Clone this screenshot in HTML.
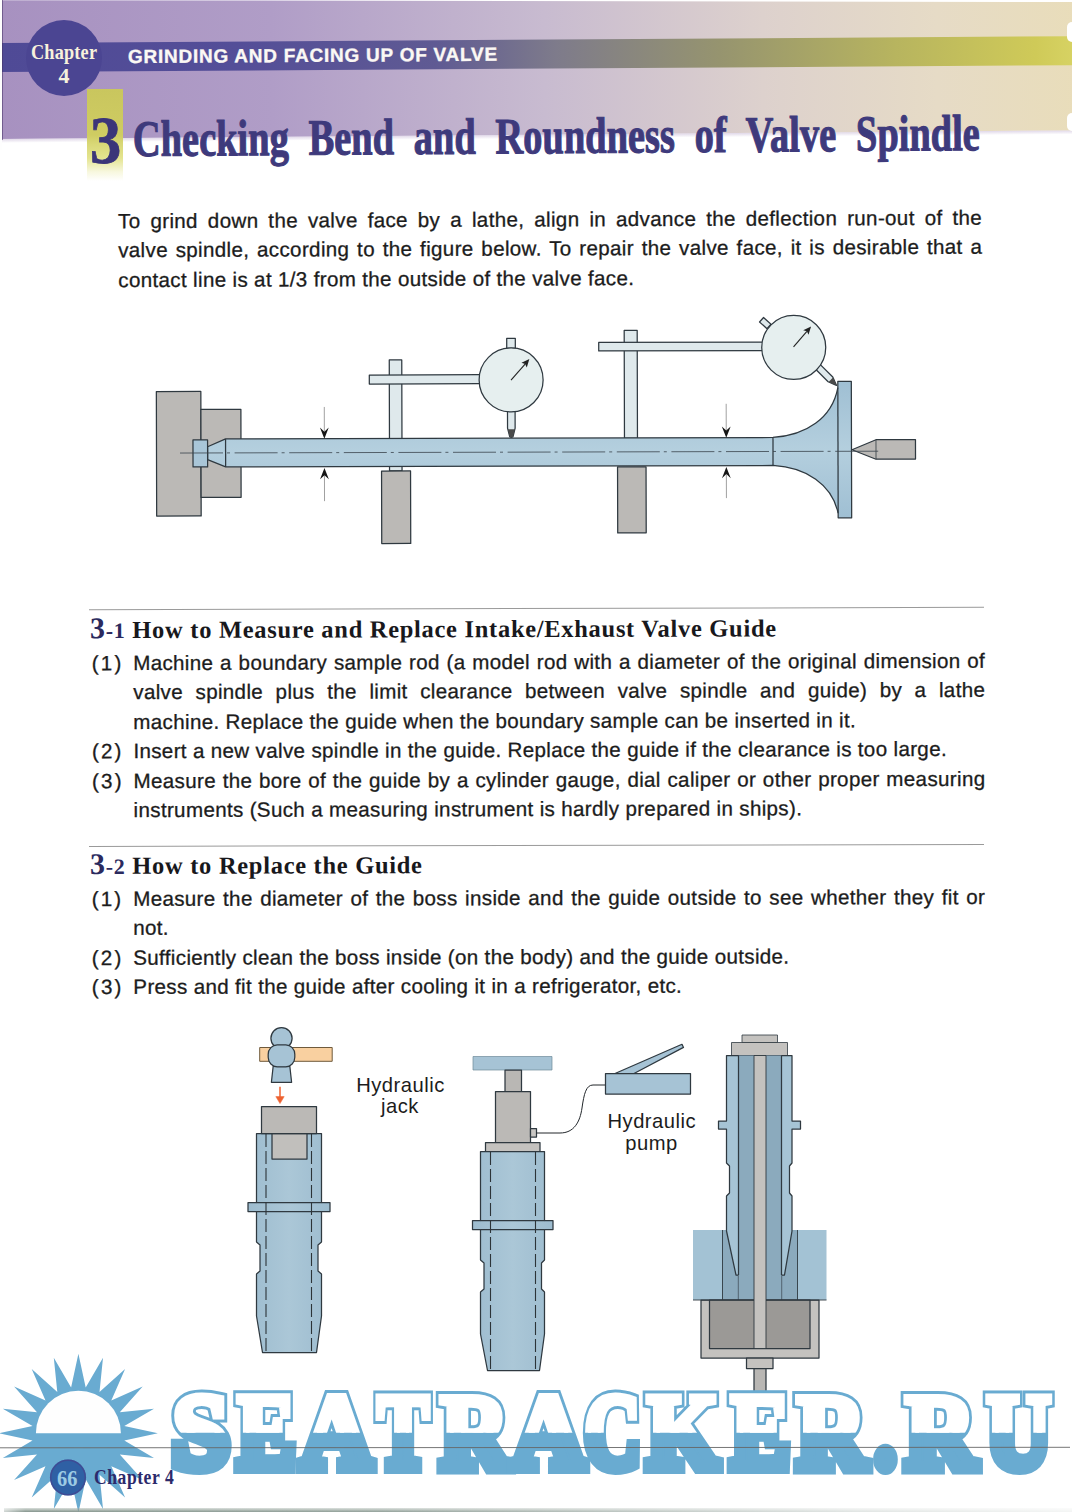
<!DOCTYPE html>
<html lang="en">
<head>
<meta charset="utf-8">
<title>Chapter 4 - Grinding and Facing Up of Valve</title>
<style>
html,body{margin:0;padding:0;}
body{width:1072px;height:1512px;position:relative;overflow:hidden;background:#fff;
  font-family:"Liberation Sans",sans-serif;color:#1c1c1c;}
.abs{position:absolute;}
/* ---------- header ---------- */
#hdr{left:0;top:-8px;width:1090px;height:147px;transform:rotate(-0.46deg);transform-origin:0 147px;
  background:linear-gradient(90deg,#a791c0 0%,#b09dc7 25%,#c8bbd0 50%,#ddd1cd 70%,#e6dbc6 86%,#e9ddb9 100%);}
#hdrfade{left:0;top:139px;width:1090px;height:4px;transform:rotate(-0.46deg);transform-origin:0 0px;
  background:linear-gradient(180deg,rgba(200,185,215,.55),rgba(255,255,255,0));}
#band{left:0;top:43px;width:1090px;height:29px;transform:rotate(-0.36deg);transform-origin:0 14px;
  background:linear-gradient(90deg,#4f4a96 0%,#544e98 22%,#5f5a93 40%,#7e7b8b 51%,#96946f 66%,#b7b45f 82%,#cfca58 95%,#dad668 100%);}
#leftedge{left:0;top:0;width:2px;height:150px;background:#fefefe;}
#circ{left:26px;top:20px;width:76px;height:76px;border-radius:50%;background:#4b4592;}
.chap{color:#f7f1dc;font-family:"Liberation Serif",serif;font-weight:bold;white-space:nowrap;line-height:1;}
#chapw{left:31px;top:41.6px;font-size:21px;transform:scaleX(.87);transform-origin:0 0;letter-spacing:.2px;}
#chapn{left:58.5px;top:64.6px;font-size:22px;transform:scaleX(1);transform-origin:0 0;}
#band-t{-webkit-text-stroke:.35px #fbf8f4;left:128px;top:44.3px;font-size:19px;font-weight:bold;color:#fbf8f4;white-space:nowrap;line-height:26px;letter-spacing:.75px;transform:rotate(-0.36deg);transform-origin:0 13px;}
#ybox{left:87px;top:89px;width:36px;height:92px;
  background:linear-gradient(180deg,#c9c65e 0%,#cfcc62 50%,#d9d877 60%,#e4e48f 75%,rgba(240,240,190,.5) 90%,rgba(255,255,255,0) 100%);}
#big3{-webkit-text-stroke:.8px #3b3579;left:89.5px;top:105.5px;font-family:"Liberation Serif",serif;font-weight:bold;font-size:68px;line-height:1;color:#3b3579;
  transform:scaleX(.92);transform-origin:0 0;}
#title{-webkit-text-stroke:1.1px #3e3a7c;left:132.8px;top:113.7px;word-spacing:13.5px;font-family:"Liberation Serif",serif;font-weight:bold;font-size:51px;line-height:1;color:#3e3a7c;white-space:nowrap;
  transform:rotate(-0.4deg) scaleX(.7535);transform-origin:0 44px;}
/* ---------- text ---------- */
.p{font-size:20.6px;line-height:29.4px;white-space:nowrap;letter-spacing:.33px;-webkit-text-stroke:.3px #1c1c1c;}
.num{letter-spacing:2.2px;}
.j{text-align:justify;text-align-last:justify;white-space:normal;}
.h{font-family:"Liberation Serif",serif;font-weight:bold;white-space:nowrap;color:#18181c;line-height:1;}
.rule{height:1px;background:#9a9a9a;}
.sec{transform-origin:536px 0;}
.sx{display:inline-block;letter-spacing:.7px;}
.n3{font-size:30px;color:#2b2a5e;}
.n1{font-size:22px;color:#2b2a5e;}
</style>
</head>
<body>
<!-- header -->
<div class="abs" id="hdr"></div>
<div class="abs" id="hdrfade"></div>
<div class="abs" id="band"></div>
<div class="abs" id="leftedge"></div>
<div class="abs" id="circ"></div>
<div class="abs" style="left:1067px;top:22px;width:10px;height:20px;border-radius:5px;background:#fff;"></div>
<div class="abs" style="left:1067px;top:113px;width:10px;height:18px;border-radius:5px;background:#fff;"></div>
<div class="abs" style="left:0;top:0;width:1072px;height:1.6px;background:#fff;transform:rotate(0.1deg);transform-origin:1072px 0;"></div>
<div class="abs" style="left:2px;top:0;width:1.4px;height:140px;background:rgba(70,50,100,.55);"></div>
<div class="abs chap" id="chapw">Chapter</div>
<div class="abs chap" id="chapn">4</div>
<div class="abs" id="band-t">GRINDING AND FACING UP OF VALVE</div>
<div class="abs" id="ybox"></div>
<div class="abs" id="big3">3</div>
<div class="abs" id="title">Checking Bend and Roundness of Valve Spindle</div>

<!-- intro paragraph -->
<div class="abs sec" id="intro" style="left:118px;top:204.2px;width:864px;transform:rotate(-0.23deg);">
  <div class="p j">To grind down the valve face by a lathe, align in advance the deflection run-out of the</div>
  <div class="p j">valve spindle, according to the figure below. To repair the valve face, it is desirable that a</div>
  <div class="p">contact line is at 1/3 from the outside of the valve face.</div>
</div>

<!-- FIG1 -->
<svg class="abs" id="fig1" style="left:0;top:290px;" width="1072" height="290" viewBox="0 290 1072 290">
<defs>
  <linearGradient id="shaftg" x1="0" y1="0" x2="0" y2="1">
    <stop offset="0" stop-color="#9fbfd3"/><stop offset=".5" stop-color="#b4cfde"/><stop offset="1" stop-color="#9fbfd3"/>
  </linearGradient>
  <marker id="ah" viewBox="0 0 10 10" refX="9.5" refY="5" markerWidth="10" markerHeight="8" markerUnits="userSpaceOnUse" orient="auto"><path d="M0,0 L10,5 L0,10 L3.5,5 Z" fill="#1a1a1a"/></marker>
</defs>
<g transform="translate(0 -0.9) rotate(-0.15 536 452)" stroke="#2f3940" stroke-width="1.25" stroke-linejoin="round">
  <!-- chuck blocks -->
  <rect x="156.5" y="391.5" width="44.5" height="124.5" fill="#bbb9b6"/>
  <rect x="201" y="409.5" width="40" height="88" fill="#bbb9b6"/>
  <!-- stands -->
  <rect x="389.5" y="360.5" width="12.5" height="111" fill="#dfe9ec"/>
  <rect x="369.5" y="375.5" width="111" height="9" fill="#dfe9ec"/>
  <rect x="624.5" y="331.5" width="13" height="108" fill="#dfe9ec"/>
  <rect x="599" y="343.5" width="165" height="8.5" fill="#dfe9ec"/>
  <!-- support blocks -->
  <rect x="381.5" y="471.5" width="29" height="72.5" fill="#bbb9b6"/>
  <rect x="617.5" y="468" width="28.5" height="66" fill="#bbb9b6"/>
  <!-- valve: stem + head -->
  <path d="M207.6,446.8 L225.6,439 L773,439 C806,437 832,420 838,389.5 L838,383 L851.5,383 L851.5,519.5 L838,519.5 L838,515 C832,486 806,469 773,467 L225.6,467 L207.6,459.6 Z" fill="url(#shaftg)"/>
  <line x1="225.6" y1="439" x2="225.6" y2="467"/>
  <line x1="773" y1="439" x2="773" y2="467"/>
  <line x1="838" y1="389.5" x2="838" y2="515"/>
  <rect x="193" y="440" width="14.6" height="27" fill="#a9c6d8"/>
  <!-- tail centre -->
  <path d="M852,451.5 L876,441.5 L915.5,441.5 L915.5,461 L876,461 Z" fill="#bbb9b6"/>
  <line x1="876" y1="441.5" x2="876" y2="461" stroke-width=".8"/>
  <!-- centre line -->
  <line x1="180" y1="453" x2="879" y2="453" stroke="#3a444c" stroke-width=".8" stroke-dasharray="43 4 3 4.6"/>
  <!-- dial 1 -->
  <rect x="507" y="339.2" width="8.6" height="10" fill="#dfe9ec"/>
  <path d="M507.6,412 L515.2,412 L515.2,429 L513,437.6 Q511.4,438.8 509.8,437.6 L507.6,429 Z" fill="#dfe9ec"/>
  <path d="M507.8,430 L515,430 L513,437.6 Q511.4,438.8 509.8,437.6 Z" fill="#4a4a4a" stroke="none"/>
  <circle cx="511.3" cy="380.8" r="32" fill="#e6efef"/>
  <line x1="511.2" y1="381.0" x2="525.3" y2="364.9" stroke="#222" stroke-width="1.1"/><path d="M529.6,360.0 L527.0,368.3 L525.3,364.9 L521.7,363.7 Z" fill="#222" stroke="none"/>
  <!-- dial 2 -->
  <rect x="-5" y="-3" width="10" height="6" fill="#dfe9ec" transform="translate(765.6 324.6) rotate(42)"/>
  <path d="M-3.3,0 L3.3,0 L3.3,19 L0,27.5 L-3.3,19 Z" fill="#dfe9ec" transform="translate(817.2 367.6) rotate(-45)"/>
  <path d="M-3.1,19.5 L3.1,19.5 L0,27.5 Z" fill="#4a4a4a" stroke="none" transform="translate(817.2 367.6) rotate(-45)"/>
  <circle cx="794" cy="349" r="32" fill="#e6efef"/>
  <line x1="793.8" y1="348.5" x2="807.2" y2="332.9" stroke="#222" stroke-width="1.1"/><path d="M811.4,328.0 L808.8,336.3 L807.2,332.9 L803.5,331.8 Z" fill="#222" stroke="none"/>
  <!-- measuring arrows -->
  <g>
    <line x1="324.4" y1="407.3" x2="324.4" y2="432.0" stroke="#8a8a8a" stroke-width=".8"/><path d="M324.4,439.2 L320.0,427.8 L324.4,432.0 L328.8,427.8 Z" fill="#161616" stroke="none"/>
    <line x1="324.4" y1="501.5" x2="324.4" y2="475.5" stroke="#8a8a8a" stroke-width=".8"/><path d="M324.4,468.3 L320.0,479.7 L324.4,475.5 L328.8,479.7 Z" fill="#161616" stroke="none"/>
    <line x1="726.3" y1="405.2" x2="726.3" y2="432.0" stroke="#8a8a8a" stroke-width=".8"/><path d="M726.3,439.2 L721.9,427.8 L726.3,432.0 L730.7,427.8 Z" fill="#161616" stroke="none"/>
    <line x1="726.3" y1="499.5" x2="726.3" y2="475.5" stroke="#8a8a8a" stroke-width=".8"/><path d="M726.3,468.3 L721.9,479.7 L726.3,475.5 L730.7,479.7 Z" fill="#161616" stroke="none"/>
  </g>
</g>
</svg>

<!-- section 3-1 -->
<div class="abs sec" id="s31" style="left:0;top:600px;width:1072px;height:230px;transform:rotate(-0.15deg);">
  <div class="abs rule" style="left:89px;top:8px;width:895px;"></div>
  <div class="abs h" id="h31" style="left:90px;top:12px;font-size:24.5px;"><span class="sx"><span class="n3">3</span><span class="n1">-1</span> How to Measure and Replace Intake/Exhaust Valve Guide</span></div>
  <div class="abs p num" style="left:91.5px;top:47.0px;">(1)</div>
  <div class="abs p j" style="left:133px;top:47.0px;width:852px;">Machine a boundary sample rod (a model rod with a diameter of the original dimension of</div>
  <div class="abs p j" style="left:133px;top:76.4px;width:852px;">valve spindle plus the limit clearance between valve spindle and guide) by a lathe</div>
  <div class="abs p" style="left:133px;top:105.8px;">machine. Replace the guide when the boundary sample can be inserted in it.</div>
  <div class="abs p num" style="left:91.5px;top:135.2px;">(2)</div>
  <div class="abs p" style="left:133px;top:135.2px;">Insert a new valve spindle in the guide. Replace the guide if the clearance is too large.</div>
  <div class="abs p num" style="left:91.5px;top:164.6px;">(3)</div>
  <div class="abs p j" style="left:133px;top:164.6px;width:852px;">Measure the bore of the guide by a cylinder gauge, dial caliper or other proper measuring</div>
  <div class="abs p" style="left:133px;top:194.0px;">instruments (Such a measuring instrument is hardly prepared in ships).</div>
</div>

<!-- section 3-2 -->
<div class="abs sec" id="s32" style="left:0;top:836px;width:1072px;height:180px;transform:rotate(-0.12deg);">
  <div class="abs rule" style="left:89px;top:9px;width:895px;"></div>
  <div class="abs h" id="h32" style="left:90px;top:12px;font-size:24.5px;"><span class="sx"><span class="n3">3</span><span class="n1">-2</span> How to Replace the Guide</span></div>
  <div class="abs p num" style="left:91.5px;top:47px;">(1)</div>
  <div class="abs p j" style="left:133px;top:47px;width:852px;">Measure the diameter of the boss inside and the guide outside to see whether they fit or</div>
  <div class="abs p" style="left:133px;top:76.4px;">not.</div>
  <div class="abs p num" style="left:91.5px;top:105.8px;">(2)</div>
  <div class="abs p" style="left:133px;top:105.8px;">Sufficiently clean the boss inside (on the body) and the guide outside.</div>
  <div class="abs p num" style="left:91.5px;top:135.2px;">(3)</div>
  <div class="abs p" style="left:133px;top:135.2px;">Press and fit the guide after cooling it in a refrigerator, etc.</div>
</div>

<!-- FIG2 -->
<svg class="abs" id="fig2" style="left:0;top:1020px;" width="1072" height="400" viewBox="0 1020 1072 400">
<defs>
  <linearGradient id="gdA" x1="0" y1="0" x2="1" y2="0">
    <stop offset="0" stop-color="#9dbccf"/><stop offset=".5" stop-color="#abc7d7"/><stop offset="1" stop-color="#9dbccf"/>
  </linearGradient>
</defs>
<g stroke="#2f3940" stroke-width="1.25" stroke-linejoin="round" font-family="'Liberation Sans',sans-serif">
  <!-- ===== A : hammer ===== -->
  <rect x="259.7" y="1047.5" width="72.5" height="13.8" fill="#f9d0a0" stroke="#6f5a3c" stroke-width="1"/>
  <circle cx="281.5" cy="1038.2" r="10.6" fill="#a6c3d5"/>
  <path d="M273.2,1066 L289.8,1066 L291.6,1082.3 L271.4,1082.3 Z" fill="#a6c3d5"/>
  <rect x="268.2" y="1044.8" width="26.6" height="22" rx="9" ry="9.5" fill="#a6c3d5"/>
  <g stroke="#ee6230" fill="#ee6230"><line x1="280" y1="1086.8" x2="280" y2="1098" stroke-width="1.5"/><path d="M275.8,1096.6 L284.2,1096.6 L280,1103.6 Z" stroke-width=".5"/></g>
  <!-- guide A -->
  <path d="M256.5,1133.5 L321.5,1133.5 L321.5,1202.5 L330,1202.5 L330,1211.5 L321.5,1211.5 L321.5,1242 L318,1245 L318,1271 L321.5,1274 L321.5,1316 L316.5,1352.5 L262.5,1352.5 L256.5,1316 L256.5,1274 L260,1271 L260,1245 L256.5,1242 L256.5,1211.5 L248,1211.5 L248,1202.5 L256.5,1202.5 Z" fill="url(#gdA)"/>
  <line x1="256.5" y1="1202.5" x2="321.5" y2="1202.5"/><line x1="256.5" y1="1211.5" x2="321.5" y2="1211.5"/>
  <g stroke="#2c3438" stroke-width="1.1" stroke-dasharray="13 4"><line x1="266" y1="1134" x2="266" y2="1352"/><line x1="311.5" y1="1134" x2="311.5" y2="1352"/></g>
  <rect x="272" y="1133.5" width="35" height="25.5" fill="#c1bfbc"/>
  <rect x="261.5" y="1106.5" width="55" height="27" fill="#bbb9b6"/>
  <!-- ===== B : jack ===== -->
  <rect x="473" y="1056.5" width="79" height="13.5" fill="#a6c3d5" stroke="#6f8a99" stroke-width=".7"/>
  <rect x="505" y="1070" width="16.5" height="21.5" fill="#b9b7b4"/>
  <rect x="495.5" y="1091.5" width="35" height="51" fill="#bbb9b6"/>
  <rect x="530.5" y="1128.5" width="6" height="8.5" fill="#c9c7c4"/>
  <rect x="485.5" y="1142.5" width="54.5" height="9" fill="#c4c2bf"/>
  <path d="M536.5,1133 L560,1133 C574,1133 580,1122 582,1108 C584,1094 586,1085 593,1085 L605.5,1085" fill="none" stroke="#22272b" stroke-width="1"/>
  <path d="M480.5,1151.5 L544.5,1151.5 L544.5,1220.5 L553,1220.5 L553,1229.5 L544.5,1229.5 L544.5,1260 L541.5,1263 L541.5,1289 L544.5,1292 L544.5,1334 L539.5,1370.5 L487.5,1370.5 L480.5,1334 L480.5,1292 L484,1289 L484,1263 L480.5,1260 L480.5,1229.5 L472.5,1229.5 L472.5,1220.5 L480.5,1220.5 Z" fill="url(#gdA)"/>
  <line x1="480.5" y1="1220.5" x2="544.5" y2="1220.5"/><line x1="480.5" y1="1229.5" x2="544.5" y2="1229.5"/>
  <g stroke="#2c3438" stroke-width="1.1" stroke-dasharray="13 4"><line x1="490.5" y1="1152" x2="490.5" y2="1370"/><line x1="535.5" y1="1152" x2="535.5" y2="1370"/></g>
  <!-- pump -->
  <path d="M615,1073.5 L682,1044.3 L683.5,1047.4 L634,1073.5 Z" fill="#a6c3d5"/>
  <rect x="605.5" y="1073.5" width="85" height="20.5" fill="#a6c3d5"/>
  <!-- ===== C : section ===== -->
  <rect x="693" y="1230" width="133.5" height="70" fill="#a3c2d4" stroke="none"/>
  <rect x="722.5" y="1230" width="75" height="70" fill="#8baabd" stroke="none"/>
  <line x1="722.5" y1="1230" x2="722.5" y2="1300" stroke-width=".9"/><line x1="797.5" y1="1230" x2="797.5" y2="1300" stroke-width=".9"/>
  <rect x="742" y="1035" width="35.5" height="7.5" fill="#c4c2bf" stroke-width=".8"/>
  <rect x="731.5" y="1042.5" width="56" height="13" fill="#c4c2bf" stroke-width=".8"/>
  <!-- guide outer -->
  <path d="M726.5,1055.5 L792,1055.5 L792,1121 L800.5,1121 L800.5,1129 L792,1129 L792,1163 L789.5,1166 L789.5,1193 L792,1196 L792,1231 L784.5,1275 L781.5,1275 L781.5,1300 L738.5,1300 L738.5,1275 L736,1275 L726.5,1231 L726.5,1196 L729.5,1193 L729.5,1166 L726.5,1163 L726.5,1129 L718.5,1129 L718.5,1121 L726.5,1121 Z" fill="#a6c4d5"/>
  <rect x="738.5" y="1055.5" width="43" height="244.5" fill="#8baabd" stroke="none"/><line x1="738.5" y1="1055.5" x2="738.5" y2="1275"/><line x1="781.5" y1="1055.5" x2="781.5" y2="1275"/>
  <!-- cup -->
  <rect x="701" y="1300" width="118" height="58" fill="#c4c2bf"/>
  <rect x="709.5" y="1300" width="100.5" height="48.5" fill="#9b9996"/>
  <line x1="693" y1="1300" x2="826.5" y2="1300" stroke-width=".9"/>
  <!-- rod -->
  <rect x="754" y="1055.5" width="12" height="293" fill="#c4c2bf" stroke-width=".9"/>
  <rect x="746.5" y="1358" width="26.5" height="10.5" fill="#c4c2bf"/>
  <rect x="754" y="1368.5" width="12" height="25" fill="#b9b7b4"/>
  <!-- labels -->
  <g stroke="none" fill="#1c1c1c" font-size="20.2" text-anchor="middle" letter-spacing=".5">
    <text x="400.5" y="1091.7">Hydraulic</text><text x="400" y="1113.2">jack</text>
    <text x="651.8" y="1128">Hydraulic</text><text x="651.6" y="1149.8">pump</text>
  </g>
</g>
</svg>

<!-- FOOTER -->
<svg class="abs" id="foot" style="left:0;top:1340px;" width="1072" height="172" viewBox="0 1340 1072 172" role="img" aria-label="SEATRACKER.RU">
<title>SEATRACKER.RU</title>
<defs>
  <clipPath id="tophalf"><rect x="0" y="1340" width="1300" height="92.8"/></clipPath>
</defs>
<polygon points="157.9,1433.3 124.3,1426.0 154.0,1408.7 119.8,1412.2 142.7,1386.6 111.3,1400.4 125.1,1369.0 99.5,1391.9 103.0,1357.7 85.7,1387.4 78.4,1353.8 71.1,1387.4 53.8,1357.7 57.3,1391.9 31.7,1369.0 45.5,1400.4 14.1,1386.6 37.0,1412.2 2.8,1408.7 32.5,1426.0 -1.1,1433.3 32.5,1440.6 2.8,1457.9 37.0,1454.4 14.1,1480.0 45.5,1466.2 31.7,1497.6 57.3,1474.7 53.8,1508.9 71.1,1479.2 78.4,1512.8 85.7,1479.2 103.0,1508.9 99.5,1474.7 125.1,1497.6 111.3,1466.2 142.7,1480.0 119.8,1454.4 154.0,1457.9 124.3,1440.6" fill="#69abd1"/>
<path d="M35.900000000000006,1433.3 A42.5,42.5 0 0 1 120.9,1433.3 Z" fill="#fefefe"/>
<g font-family="'Liberation Serif',serif" font-weight="bold" font-size="105" stroke-linejoin="miter" stroke-miterlimit="2.2">
  <text y="1467.2" fill="#69abd1" stroke="#69abd1" stroke-width="14.0"><tspan x="172.2" textLength="57.0" lengthAdjust="spacingAndGlyphs">S</tspan><tspan x="237.6" textLength="57.6" lengthAdjust="spacingAndGlyphs">E</tspan><tspan x="301.1" textLength="70.9" lengthAdjust="spacingAndGlyphs">A</tspan><tspan x="377.2" textLength="51.7" lengthAdjust="spacingAndGlyphs">T</tspan><tspan x="440.4" textLength="68.4" lengthAdjust="spacingAndGlyphs">R</tspan><tspan x="512.6" textLength="71.8" lengthAdjust="spacingAndGlyphs">A</tspan><tspan x="584.2" textLength="56.4" lengthAdjust="spacingAndGlyphs">C</tspan><tspan x="647.3" textLength="71.3" lengthAdjust="spacingAndGlyphs">K</tspan><tspan x="731.0" textLength="58.5" lengthAdjust="spacingAndGlyphs">E</tspan><tspan x="796.9" textLength="69.2" lengthAdjust="spacingAndGlyphs">R</tspan><tspan x="875.1" textLength="20.9" lengthAdjust="spacingAndGlyphs">.</tspan><tspan x="905.6" textLength="70.1" lengthAdjust="spacingAndGlyphs">R</tspan><tspan x="986.4" textLength="64.5" lengthAdjust="spacingAndGlyphs">U</tspan></text>
  <text y="1467.2" fill="#fff" stroke="#fff" stroke-width="8" clip-path="url(#tophalf)"><tspan x="172.2" textLength="57.0" lengthAdjust="spacingAndGlyphs">S</tspan><tspan x="237.6" textLength="57.6" lengthAdjust="spacingAndGlyphs">E</tspan><tspan x="301.1" textLength="70.9" lengthAdjust="spacingAndGlyphs">A</tspan><tspan x="377.2" textLength="51.7" lengthAdjust="spacingAndGlyphs">T</tspan><tspan x="440.4" textLength="68.4" lengthAdjust="spacingAndGlyphs">R</tspan><tspan x="512.6" textLength="71.8" lengthAdjust="spacingAndGlyphs">A</tspan><tspan x="584.2" textLength="56.4" lengthAdjust="spacingAndGlyphs">C</tspan><tspan x="647.3" textLength="71.3" lengthAdjust="spacingAndGlyphs">K</tspan><tspan x="731.0" textLength="58.5" lengthAdjust="spacingAndGlyphs">E</tspan><tspan x="796.9" textLength="69.2" lengthAdjust="spacingAndGlyphs">R</tspan><tspan x="875.1" textLength="20.9" lengthAdjust="spacingAndGlyphs">.</tspan><tspan x="905.6" textLength="70.1" lengthAdjust="spacingAndGlyphs">R</tspan><tspan x="986.4" textLength="64.5" lengthAdjust="spacingAndGlyphs">U</tspan></text>
</g>
<line x1="0" y1="1447.8" x2="1070" y2="1447.3" stroke="#666" stroke-width=".9"/>
<circle cx="68" cy="1477.5" r="18" fill="#2f60a4"/>
<circle cx="68" cy="1477.5" r="17.3" fill="none" stroke="#46408c" stroke-width="1.6" opacity=".65"/>
</svg>
<div class="abs" id="pg66" style="left:57px;top:1466px;font-family:'Liberation Serif',serif;font-weight:bold;font-size:24px;line-height:1;color:#9ccbe4;transform:scaleX(.85);transform-origin:0 0;">66</div>
<div class="abs" id="ftchap" style="left:93.5px;top:1467px;font-family:'Liberation Serif',serif;font-weight:bold;font-size:20px;line-height:1;color:#2c2a6b;white-space:nowrap;letter-spacing:.6px;transform:scaleX(.88);transform-origin:0 0;">Chapter 4</div>
<div class="abs" id="botshadow" style="left:4px;top:1508px;width:1068px;height:4px;background:linear-gradient(90deg,rgba(255,255,255,.6) 0%,rgba(255,255,255,0) 2%,rgba(255,255,255,.1) 35%,rgba(255,255,255,.75) 80%,rgba(255,255,255,.9) 100%),linear-gradient(180deg,rgba(160,175,165,.4),#84948c);"></div>

</body>
</html>
